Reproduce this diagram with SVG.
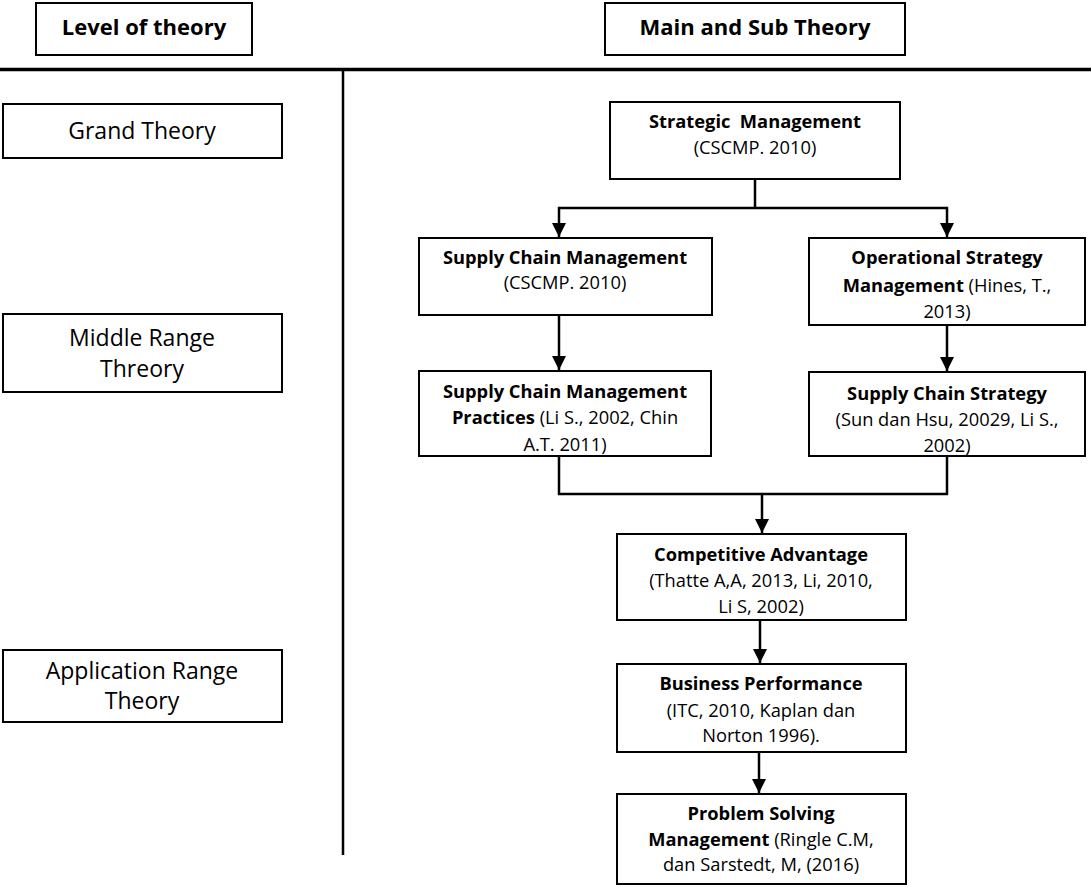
<svg xmlns="http://www.w3.org/2000/svg" width="1091" height="887" viewBox="0 0 1091 887">
<defs>
<marker id="arr" viewBox="0 0 14 14" refX="14" refY="7" markerWidth="14" markerHeight="14" markerUnits="userSpaceOnUse" orient="auto">
<path d="M0,0 L14,7 L0,14 Z" fill="#000"/>
</marker>
<style>
.box{fill:#fff;stroke:#000;stroke-width:2}
.t{font-family:"Open Sans","Liberation Sans",sans-serif;fill:#000;text-anchor:middle}
.hd{font-size:22px;font-weight:bold}
.lv{font-size:23px}
.n{font-size:18.3px}
.b{font-weight:bold}
.c{fill:none;stroke:#000;stroke-width:2.5}
</style>
</defs>
<rect width="1091" height="887" fill="#fff"/>
<g id="frame">
<line x1="0" y1="69.5" x2="1091" y2="69.5" stroke="#000" stroke-width="3.5"/>
<line x1="343" y1="71" x2="343" y2="855" stroke="#000" stroke-width="2.5"/>
</g>
<g id="hdr-level"><rect class="box" x="36" y="3" width="216" height="52"/><text class="t hd" x="144" y="35">Level of theory</text></g>
<g id="hdr-main"><rect class="box" x="605" y="3" width="300" height="52"/><text class="t hd" x="755" y="35">Main and Sub Theory</text></g>
<g id="lv-grand"><rect class="box" x="3" y="104" width="279" height="54"/><text class="t lv" x="142" y="139">Grand Theory</text></g>
<g id="lv-middle"><rect class="box" x="3" y="314" width="279" height="78"/><text class="t lv" x="142" y="346">Middle Range</text><text class="t lv" x="142" y="377">Threory</text></g>
<g id="lv-app"><rect class="box" x="3" y="650" width="279" height="72"/><text class="t lv" x="142" y="679">Application Range</text><text class="t lv" x="142" y="709">Theory</text></g>
<g id="connectors">
<path class="c" d="M755,179 V208 M559,208 H947"/>
<path class="c" d="M559,206.8 V237" marker-end="url(#arr)"/>
<path class="c" d="M947,206.8 V237" marker-end="url(#arr)"/>
<path class="c" d="M559,315 V370" marker-end="url(#arr)"/>
<path class="c" d="M947,325 V371" marker-end="url(#arr)"/>
<path class="c" d="M559,456 V494 M947,456 V494 M557.8,494 H948.2"/>
<path class="c" d="M762,494 V533" marker-end="url(#arr)"/>
<path class="c" d="M760,620 V663" marker-end="url(#arr)"/>
<path class="c" d="M759,752 V793" marker-end="url(#arr)"/>
</g>
<g id="n-strategic"><rect class="box" x="610" y="102" width="290" height="77"/><text class="t n" x="755" y="128"><tspan class="b">Strategic&#160; Management</tspan></text><text class="t n" x="755" y="154">(CSCMP. 2010)</text></g>
<g id="n-scm"><rect class="box" x="419" y="238" width="293" height="77"/><text class="t n" x="565" y="264"><tspan class="b">Supply Chain Management</tspan></text><text class="t n" x="565" y="289">(CSCMP. 2010)</text></g>
<g id="n-osm"><rect class="box" x="809" y="238" width="276" height="87"/><text class="t n" x="947" y="264"><tspan class="b">Operational Strategy</tspan></text><text class="t n" x="947" y="292"><tspan class="b">Management</tspan> (Hines, T.,</text><text class="t n" x="947" y="318">2013)</text></g>
<g id="n-scmp"><rect class="box" x="419" y="371" width="292" height="85"/><text class="t n" x="565" y="398"><tspan class="b">Supply Chain Management</tspan></text><text class="t n" x="565" y="424"><tspan class="b">Practices</tspan> (Li S., 2002, Chin</text><text class="t n" x="565" y="451">A.T. 2011)</text></g>
<g id="n-scs"><rect class="box" x="809" y="372" width="276" height="84"/><text class="t n" x="947" y="400"><tspan class="b">Supply Chain Strategy</tspan></text><text class="t n" x="947" y="426">(Sun dan Hsu, 20029, Li S.,</text><text class="t n" x="947" y="452">2002)</text></g>
<g id="n-ca"><rect class="box" x="617" y="534" width="289" height="86"/><text class="t n" x="761" y="561"><tspan class="b">Competitive Advantage</tspan></text><text class="t n" x="761" y="587">(Thatte A,A, 2013, Li, 2010,</text><text class="t n" x="761" y="613">Li S, 2002)</text></g>
<g id="n-bp"><rect class="box" x="617" y="664" width="289" height="88"/><text class="t n" x="761" y="690"><tspan class="b">Business Performance</tspan></text><text class="t n" x="761" y="717">(ITC, 2010, Kaplan dan</text><text class="t n" x="761" y="742">Norton 1996).</text></g>
<g id="n-psm"><rect class="box" x="617" y="794" width="289" height="90"/><text class="t n" x="761" y="820"><tspan class="b">Problem Solving</tspan></text><text class="t n" x="761" y="846"><tspan class="b">Management</tspan> (Ringle C.M,</text><text class="t n" x="761" y="871">dan Sarstedt, M, (2016)</text></g>
</svg>
